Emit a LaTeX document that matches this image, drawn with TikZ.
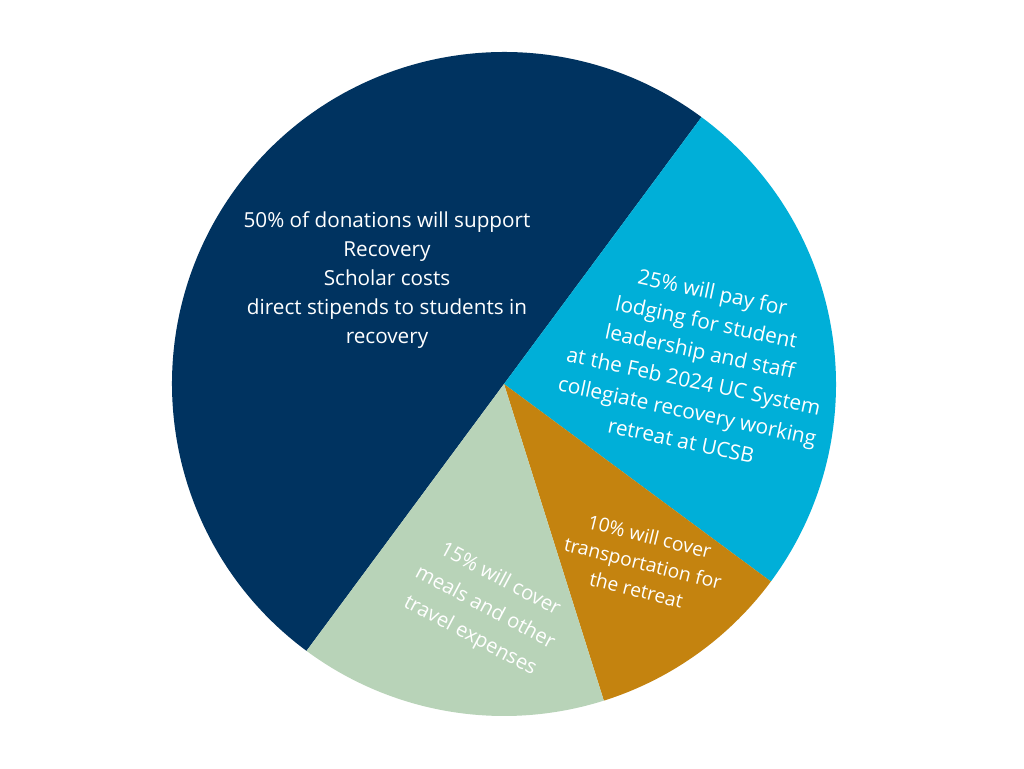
\documentclass[tikz,border=0pt]{standalone}
\usepackage{fontspec}
\setmainfont{Open Sans}
\definecolor{navy}{HTML}{003360}
\definecolor{aqua}{HTML}{00AFD8}
\definecolor{gold}{HTML}{C4830F}
\definecolor{sage}{HTML}{B8D3B8}
\begin{document}
\begin{tikzpicture}[x=1pt,y=1pt,
  lbl/.style={text=white, align=center, inner sep=0pt}]
\useasboundingbox[fill=white] (-504,-384) rectangle (520,384);
\def\R{332}
\fill[navy] (0,0) -- (53.5:\R) arc[start angle=53.5, end angle=233.5, radius=\R] -- cycle;
\fill[aqua] (0,0) -- (-36.5:\R) arc[start angle=-36.5, end angle=53.5, radius=\R] -- cycle;
\fill[gold] (0,0) -- (-72.5:\R) arc[start angle=-72.5, end angle=-36.5, radius=\R] -- cycle;
\fill[sage] (0,0) -- (-126.5:\R) arc[start angle=-126.5, end angle=-72.5, radius=\R] -- cycle;
\node[lbl, font=\fontsize{20.7}{29}\selectfont] (l50) at (-117,104)
  {50\% of donations will support\\Recovery\\Scholar costs\\direct stipends to students in\\recovery};
\node[lbl, rotate=-12, font=\fontsize{20.8}{30.3}\selectfont] (l25) at (193,18)
  {25\% will pay for\\lodging for student\\leadership and staff\\at the Feb 2024 UC System\\collegiate recovery working\\retreat at UCSB};
\node[lbl, rotate=-14, font=\fontsize{19.3}{27.5}\selectfont] (l10) at (139,-179)
  {10\% will cover\\transportation for\\the retreat};
\node[lbl, rotate=-28, font=\fontsize{20.3}{32}\selectfont] (l15) at (-19,-224)
  {15\% will cover\\meals and other\\travel expenses};
\end{tikzpicture}
\end{document}
